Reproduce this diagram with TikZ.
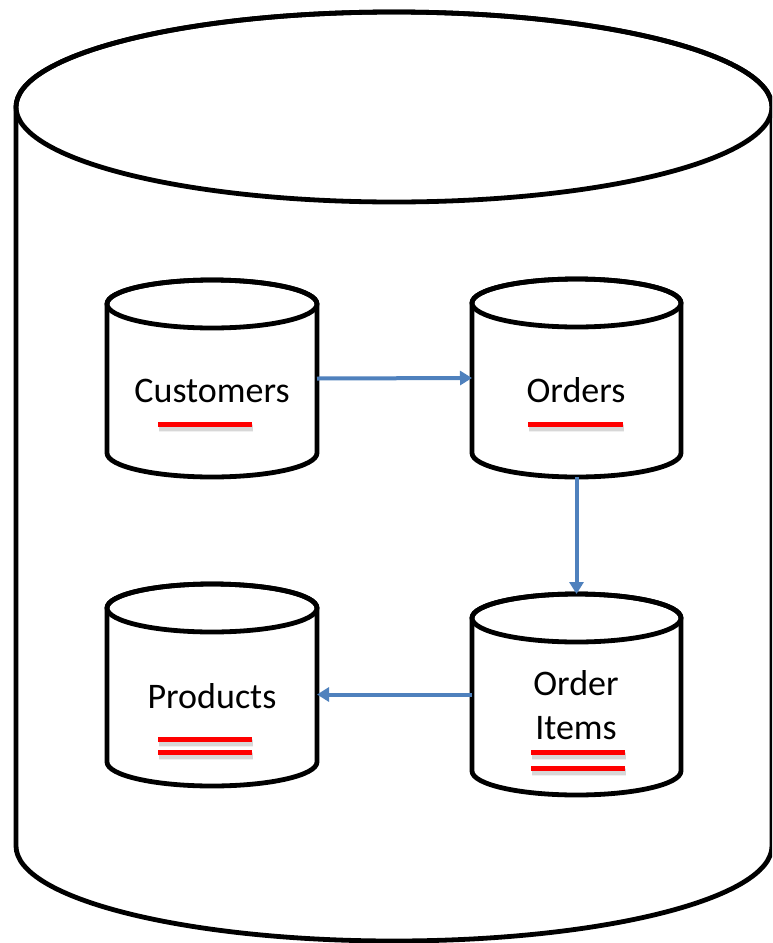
\documentclass[tikz,border=0pt]{standalone}
\usepackage{fontspec}
\setmainfont{Carlito}
\usetikzlibrary{arrows.meta}

\definecolor{linkblue}{HTML}{4F81BD}
\definecolor{keyred}{HTML}{FF0000}

% one pixel of the drawing grid
\newcommand\pxu{0.75pt}

% database drum: centre x, top-face centre y, bottom-face centre y, x radius, y radius
\newcommand\dbdrum[5]{%
  \draw[drum] (#1-#4,#2) -- (#1-#4,#3)
    arc[start angle=180,end angle=0,x radius=#4,y radius=#5]
    -- (#1+#4,#2)
    arc[start angle=0,end angle=-180,x radius=#4,y radius=#5] -- cycle;
  \draw[drumedge] (#1,#2) ellipse[x radius=#4,y radius=#5];
}

% key marker under a table name: x from, x to, y
\newcommand\keymark[3]{%
  \draw[keyshadow, line width=6pt, opacity=0.06] (#1+1,#3+4) -- (#2+1,#3+4);
  \draw[keyshadow, line width=4pt, opacity=0.10] (#1+1,#3+4) -- (#2+1,#3+4);
  \draw[keyline] (#1,#3) -- (#2,#3);
}

\tikzset{
  drum/.style={line width=3.6pt, draw=black, fill=white, line join=round},
  drumedge/.style={line width=3.6pt, draw=black},
  tablebox/.style={inner sep=0pt, outer sep=0pt, draw=none},
  tabletext/.style={inner sep=0pt, font=\fontsize{27pt}{32.4pt}\selectfont},
  keyline/.style={draw=keyred, line width=3.75pt},
  keyshadow/.style={draw=black},
  link/.style={draw=linkblue, line width=3pt,
    -{Triangle[length=9pt,width=10.5pt]}},
}

\begin{document}
\begin{tikzpicture}[x=\pxu, y=-\pxu]
  \useasboundingbox (0,0) rectangle (772,943);
  \clip (0,0) rectangle (772,943);

  % the enclosing database
  \dbdrum{394}{107}{846}{378}{95}

  % table drums
  \dbdrum{212}{304}{453}{105}{24}
  \dbdrum{576.5}{303}{453}{104.5}{24}
  \dbdrum{212}{608}{762}{105}{24}
  \dbdrum{576.5}{618}{771}{104.5}{24}

  % anchors for the connectors
  \node[tablebox, minimum width=210*\pxu, minimum height=197*\pxu] (customers) at (212,378.5) {};
  \node[tablebox, minimum width=209*\pxu, minimum height=198*\pxu] (orders) at (576.5,378) {};
  \node[tablebox, minimum width=210*\pxu, minimum height=202*\pxu] (products) at (212,685) {};
  \node[tablebox, minimum width=209*\pxu, minimum height=201*\pxu] (orderitems) at (576.5,694.5) {};

  % table names (a two-line name sits on the baseline of its last line)
  \node[tabletext, anchor=base] (customerslabel) at (212,402) {Customers};
  \node[tabletext, anchor=base] (orderslabel) at (576,402) {Orders};
  \node[tabletext, anchor=base] (productslabel) at (212,708) {Products};
  \node[tabletext, anchor=base, align=center] (orderitemslabel) at (576,739) {Order\\Items};

  % key markers
  \keymark{158}{252}{424}
  \keymark{528}{623}{424}
  \keymark{158}{252}{739}
  \keymark{158}{252}{752}
  \keymark{531}{625}{752}
  \keymark{531}{625}{768}

  % relationships
  \draw[link] (customers.east) -- (orders.west);
  \draw[link] (orders.south) -- (orderitems.north);
  \draw[link] (orderitems.west) -- (orderitems.west -| products.east);
\end{tikzpicture}
\end{document}
